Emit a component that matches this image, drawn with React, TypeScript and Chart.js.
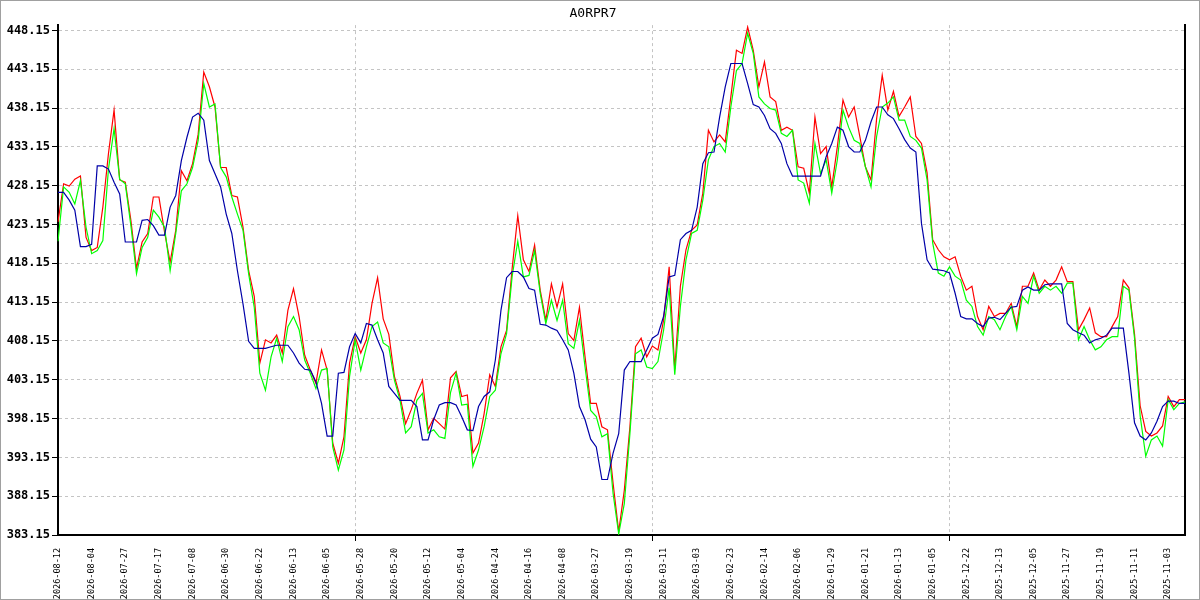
import { useEffect, useRef } from "react"
import { Chart, registerables } from "chart.js"

Chart.register(...registerables)

const TITLE = "A0RPR7"

// one date label every 6 trading days (newest on the left)
const DATE_TICKS = [
  "2026-08-12", "2026-08-04", "2026-07-27", "2026-07-17", "2026-07-08", "2026-06-30",
  "2026-06-22", "2026-06-13", "2026-06-05", "2026-05-28", "2026-05-20", "2026-05-12",
  "2026-05-04", "2026-04-24", "2026-04-16", "2026-04-08", "2026-03-27", "2026-03-19",
  "2026-03-11", "2026-03-03", "2026-02-23", "2026-02-14", "2026-02-06", "2026-01-29",
  "2026-01-21", "2026-01-13", "2026-01-05", "2025-12-22", "2025-12-13", "2025-12-05",
  "2025-11-27", "2025-11-19", "2025-11-11", "2025-11-03",
]

const Y_TICKS = [
  383.15, 388.15, 393.15, 398.15, 403.15, 408.15, 413.15,
  418.15, 423.15, 428.15, 433.15, 438.15, 443.15, 448.15,
]

// vertical dashed separators
const GRID_AT = [53, 106, 159]

const RED = [
  423.5, 428.4, 428.1, 429.0, 429.4, 421.5, 419.8, 420.2, 425.4, 432.3,
  437.9, 428.9, 428.6, 423.7, 417.5, 420.9, 422.0, 426.7, 426.7, 422.2,
  418.3, 422.4, 430.1, 428.8, 431.0, 434.8, 442.8, 440.9, 438.3, 430.5,
  430.5, 426.9, 426.7, 422.8, 417.2, 413.9, 405.3, 408.3, 407.9, 408.9,
  406.6, 412.1, 414.9, 411.3, 406.3, 404.4, 402.7, 407.0, 404.4, 395.0,
  392.4, 395.8, 405.3, 408.7, 406.6, 408.3, 413.0, 416.3, 411.0, 409.0,
  403.6, 401.0, 397.5, 399.3, 401.4, 403.1, 396.7, 398.2, 397.5, 396.8,
  403.4, 404.2, 401.0, 401.2, 393.7, 395.0, 398.8, 403.8, 402.3, 407.4,
  409.5, 417.5, 424.3, 418.6, 417.1, 420.5, 414.7, 410.8, 415.5, 412.5,
  415.5, 409.1, 408.2, 412.5, 406.1, 400.1, 400.1, 397.1, 396.7, 389.8,
  383.6, 388.9, 397.1, 407.4, 408.5, 406.1, 407.5, 407.0, 410.8, 417.7,
  404.5, 415.2, 419.9, 422.4, 423.1, 427.2, 435.3, 433.8, 434.7, 433.8,
  439.6, 445.6, 445.2, 448.6, 445.6, 440.9, 444.1, 439.6, 439.0, 435.3,
  435.7, 435.3, 430.6, 430.4, 427.2, 437.0, 432.3, 433.2, 428.0, 433.2,
  439.2, 437.0, 438.3, 434.5, 430.6, 428.9, 436.8, 442.4, 437.9, 440.3,
  437.1, 438.3, 439.6, 434.5, 433.6, 429.8, 421.2, 419.9, 419.0, 418.6,
  419.0, 416.5, 414.7, 415.2, 411.3, 409.6, 412.6, 411.3, 411.7, 411.7,
  413.0, 410.0, 415.2, 415.2, 416.9, 414.7, 416.0, 415.2, 416.0, 417.7,
  415.8, 415.8, 409.6, 410.9, 412.4, 409.2, 408.7, 408.7, 410.0, 411.3,
  416.0, 415.0, 409.0, 399.8, 396.5, 395.9, 396.3, 397.2, 401.0, 399.7,
  400.6, 400.6,
]

const GREEN = [
  421.0, 428.0, 427.3, 425.8, 428.8, 422.8, 419.4, 419.8, 421.1, 430.3,
  435.5, 429.0, 428.4, 423.0, 416.8, 420.2, 421.5, 425.0, 424.1, 422.8,
  417.2, 422.0, 427.5, 428.4, 430.5, 434.0, 441.3, 438.3, 438.7, 430.5,
  429.3, 426.7, 424.5, 422.4, 416.8, 412.5, 404.0, 401.8, 406.1, 408.5,
  405.5, 410.0, 411.3, 409.6, 405.7, 404.0, 402.0, 404.4, 404.6, 394.5,
  391.5, 394.1, 403.6, 408.3, 404.4, 407.4, 410.0, 410.6, 407.9, 407.4,
  403.1, 400.5, 396.3, 397.1, 400.5, 401.4, 396.3, 396.7, 395.8, 395.6,
  401.5, 404.0, 399.9, 400.0, 392.0, 394.1, 397.1, 401.0, 401.8, 406.5,
  409.1, 416.5, 421.0, 416.4, 416.6, 419.8, 414.3, 410.4, 413.4, 410.8,
  413.4, 407.8, 407.2, 410.8, 404.8, 399.2, 398.4, 395.8, 396.2, 388.5,
  383.3, 387.2, 396.2, 406.5, 407.0, 404.8, 404.6, 405.5, 409.5, 415.0,
  403.8, 412.6, 418.6, 422.0, 422.4, 426.3, 431.5, 433.2, 433.6, 432.5,
  438.3, 443.0, 443.9, 447.8, 445.2, 439.6, 438.7, 438.1, 437.9, 434.9,
  434.5, 435.3, 428.9, 428.5, 425.9, 433.6, 429.7, 431.5, 427.2, 431.5,
  437.9, 435.7, 434.0, 433.6, 430.6, 428.0, 434.5, 438.3, 438.8, 439.6,
  436.6, 436.6, 434.5, 434.0, 433.0, 428.9, 420.8, 416.9, 416.5, 417.7,
  416.5, 416.0, 413.4, 412.6, 410.0, 408.9, 411.3, 410.9, 409.6, 411.3,
  412.6, 409.6, 413.9, 413.0, 416.5, 414.3, 415.2, 414.7, 415.2, 414.3,
  415.6, 415.6, 408.3, 410.0, 408.3, 407.0, 407.4, 408.3, 408.7, 408.7,
  415.2, 414.7, 408.5, 398.5, 393.3, 395.4, 395.9, 394.6, 400.6, 399.3,
  400.1, 400.3,
]

const BLUE = [
  427.3, 427.3, 426.3, 425.0, 420.3, 420.3, 420.6, 430.7, 430.7, 430.3,
  428.6, 427.1, 420.9, 420.9, 420.9, 423.7, 423.8, 423.0, 421.8, 421.8,
  425.4, 426.9, 431.4, 434.4, 437.0, 437.5, 436.6, 431.4, 429.7, 428.0,
  424.5, 422.0, 417.2, 412.9, 408.1, 407.2, 407.2, 407.2, 407.4, 407.6,
  407.6, 407.6, 406.6, 405.3, 404.5, 404.4, 402.9, 400.1, 395.9, 395.9,
  404.0, 404.1, 407.4, 409.1, 407.9, 410.4, 410.2, 408.3, 406.6, 402.3,
  401.4, 400.5, 400.5, 400.5, 399.7, 395.4, 395.4, 398.0, 399.9, 400.2,
  400.2, 399.9, 398.4, 396.7, 396.6, 399.7, 401.0, 401.6, 405.7, 412.1,
  416.3, 417.1, 417.1, 416.4, 414.9, 414.7, 410.3, 410.2, 409.8, 409.5,
  408.3, 407.0, 404.0, 399.7, 398.0, 395.5, 394.5, 390.3, 390.3, 393.7,
  396.2, 404.4, 405.5, 405.5, 405.5, 407.0, 408.5, 409.0, 411.3, 416.4,
  416.6, 421.2, 422.0, 422.4, 425.4, 431.0, 432.4, 432.5, 437.0, 440.9,
  443.9, 443.9, 443.9, 441.3, 438.6, 438.3, 437.2, 435.5, 434.9, 433.6,
  431.0, 429.4, 429.4, 429.4, 429.4, 429.4, 429.4, 431.9, 433.6, 435.7,
  435.3, 433.2, 432.5, 432.5, 434.0, 436.4, 438.3, 438.3, 437.3, 436.8,
  435.5, 434.1, 433.0, 432.5, 423.3, 418.6, 417.4, 417.3, 417.2, 416.9,
  414.3, 411.3, 411.0, 411.0, 410.4, 410.0, 411.1, 411.2, 410.9, 411.7,
  412.5, 412.6, 414.7, 415.1, 414.7, 414.7, 415.4, 415.5, 415.5, 415.5,
  410.4, 409.6, 409.2, 408.9, 407.9, 408.3, 408.5, 408.9, 409.8, 409.8,
  409.8, 404.0, 397.6, 395.9, 395.4, 396.3, 397.8, 399.7, 400.4, 400.4,
  400.1, 400.1,
]

const LABELS = RED.map((_, i) => (i % 6 === 0 ? DATE_TICKS[i / 6] ?? "" : ""))

const FONT = "'DejaVu Sans Mono', monospace"

// is this x tick one of the dashed separators? (ticks with null labels get dropped,
// so look at the tick value, not its position in the ticks array)
const isSeparator = (ctx: any) => GRID_AT.includes(ctx?.tick?.value)

export default function App() {
  const canvasRef = useRef<HTMLCanvasElement | null>(null)
  const chartRef = useRef<Chart | null>(null)

  useEffect(() => {
    if (!canvasRef.current) return
    if (chartRef.current) chartRef.current.destroy()

    chartRef.current = new Chart(canvasRef.current, {
      type: "line",
      data: {
        labels: LABELS,
        datasets: [
          { data: BLUE, borderColor: "#0000a8", borderWidth: 1.2, pointRadius: 0, tension: 0 },
          { data: GREEN, borderColor: "#00ff00", borderWidth: 1.2, pointRadius: 0, tension: 0 },
          { data: RED, borderColor: "#ff0000", borderWidth: 1.2, pointRadius: 0, tension: 0 },
        ],
      },
      options: {
        animation: false,
        responsive: true,
        maintainAspectRatio: false,
        layout: { padding: { left: 0, right: 14, top: 0, bottom: 0 } },
        plugins: {
          legend: { display: false },
          tooltip: { enabled: false },
          title: {
            display: true,
            text: TITLE,
            color: "#000",
            font: { family: FONT, size: 13, weight: "normal" },
            padding: { top: 5, bottom: 3.5 },
          },
        },
        scales: {
          x: {
            type: "category",
            offset: false,
            afterFit: (axis) => {
              axis.height = 64
            },
            ticks: {
              autoSkip: false,
              maxRotation: 90,
              minRotation: 90,
              padding: 7,
              color: "#000",
              font: { family: FONT, size: 8.5 },
              callback: (value) => {
                const i = Number(value)
                if (GRID_AT.includes(i)) return ""
                return LABELS[i] ? LABELS[i] : null
              },
            },
            grid: {
              color: (ctx) => (isSeparator(ctx) ? "#c4c4c4" : "rgba(0,0,0,0)"),
              tickColor: (ctx) => (isSeparator(ctx) ? "#000" : "rgba(0,0,0,0)"),
              tickLength: 6,
              lineWidth: 1,
            },
            border: { display: true, color: "#000", width: 2, dash: [3, 3] },
          },
          y: {
            type: "linear",
            position: "left",
            min: 383.15,
            max: 448.85,
            afterFit: (axis) => {
              axis.width = 57
            },
            afterBuildTicks: (axis) => {
              axis.ticks = Y_TICKS.map((v) => ({ value: v }))
            },
            ticks: {
              padding: 2,
              color: "#000",
              font: { family: FONT, size: 12, weight: "bold" },
              callback: (value) => Number(value).toFixed(2),
            },
            grid: {
              color: "#c4c4c4",
              tickColor: "#000",
              tickLength: 6,
              lineWidth: 1,
            },
            border: { display: true, color: "#000", width: 2, dash: [3, 3] },
          },
          y2: {
            type: "linear",
            position: "right",
            afterFit: (axis) => {
              axis.width = 0
            },
            ticks: { display: false },
            grid: { display: false },
            border: { display: true, color: "#000", width: 2 },
          },
        },
      },
    })

    return () => {
      if (chartRef.current) {
        chartRef.current.destroy()
        chartRef.current = null
      }
    }
  }, [])

  return (
    <div
      style={{
        position: "fixed",
        left: 0,
        top: 0,
        width: 1200,
        height: 600,
        boxSizing: "border-box",
        border: "1px solid #a0a0a0",
        background: "#fff",
      }}
    >
      <div style={{ position: "relative", width: 1198, height: 598 }}>
        <canvas ref={canvasRef}></canvas>
      </div>
    </div>
  )
}
